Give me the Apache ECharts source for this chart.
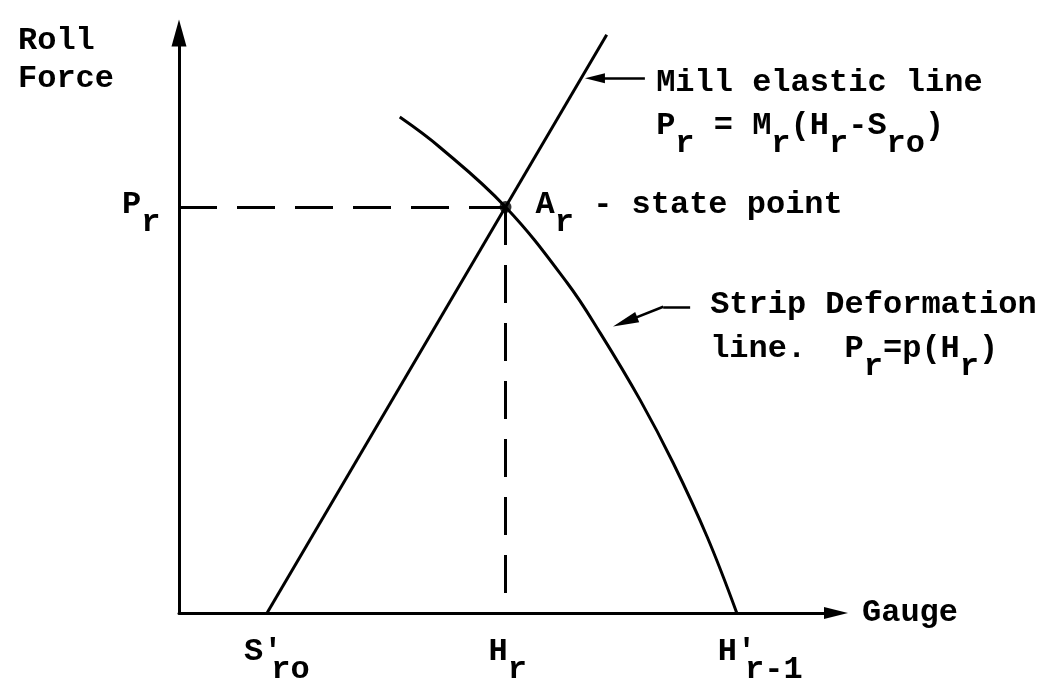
<!DOCTYPE html>
<html>
<head>
<meta charset="utf-8">
<script src="https://cdn.jsdelivr.net/npm/echarts@6/dist/echarts.min.js"></script>
<style>
  html, body { margin: 0; padding: 0; background: #fff; }
  #chart { width: 1061px; height: 686px; }
</style>
</head>
<body>
<div id="chart"></div>
<script>
// gauge (x) against roll force (y), arbitrary units 0..100
const millElasticLine = [[13.4, 0], [65.1, 99.7]];
const stripDeformationLine = [
  [33.6, 85.5], [39.7, 80.3], [49.7, 70.0], [59.1, 56.9], [64.1, 48.3],
  [70.2, 36.7], [75.2, 25.9], [80.4, 13.1], [84.9, 0]
];
const statePoint = [49.7, 70.0];
const gaugeTicks = [13.4, 49.7, 84.9];
const gaugeTickLabels = ["S'_{ro}", 'H_{r}', "H'_{r-1}"];
const forceTickLabel = 'P_{r}';

const FONT = 'Liberation Mono';
const txt = { fontFamily: FONT, fontSize: 32, fontWeight: 'bold', color: '#000', opacity: 1 };
const rich = {
  m: Object.assign({ verticalAlign: 'top' }, txt),
  s: Object.assign({ verticalAlign: 'bottom', lineHeight: 50 }, txt),
  p: Object.assign({ verticalAlign: 'top', width: 8 }, txt)
};

// "H'_{r-1}" -> rich text with subscripts / primes
function toRich(str) {
  const out = '{m|' + str
    .replace(/_\{([^}]*)\}/g, '}{s|$1}{m|')
    .replace(/'/g, "}{p|'}{m|") + '}';
  return out.replace(/\{m\|\}/g, '');
}

function note(coord, text, dx, dy) {
  return { value: coord, label: { formatter: toRich(text), offset: [dx, dy] } };
}

// point on the mill line at a given force
function onMill(y) {
  const a = millElasticLine[0], b = millElasticLine[1];
  return a[0] + (b[0] - a[0]) * (y - a[1]) / (b[1] - a[1]);
}

const millPtr = [onMill(92.2), 92.2];
const stripTail = [77.8, 52.8];
const stripKnee = [73.7, 52.8];
const stripTip = [67.9, 50.2];

const notes = [
  note([0, 100], 'Roll', -161, -8),
  note([0, 100], 'Force', -161, 30),
  note(millPtr, 'Mill elastic line', 75, -11),
  note(millPtr, 'P_{r} = M_{r}(H_{r}-S_{ro})', 75, 32),
  note(statePoint, 'A_{r} - state point', 30, -18),
  note(stripTail, 'Strip Deformation', 20, -18),
  note(stripTail, 'line.  P_{r}=p(H_{r})', 20, 26),
  note([0, statePoint[1]], forceTickLabel, -57, -18),
  note([gaugeTicks[0], 0], gaugeTickLabels[0], -23, 23),
  note([gaugeTicks[1], 0], gaugeTickLabels[1], -17, 23),
  note([gaugeTicks[2], 0], gaugeTickLabels[2], -19, 23)
];

const chart = echarts.init(document.getElementById('chart'), null, { renderer: 'canvas' });

const axisCommon = {
  type: 'value', min: 0, max: 100,
  splitLine: { show: false }, axisTick: { show: false }, axisLabel: { show: false }
};

chart.setOption({
  backgroundColor: '#fff',
  animation: false,
  grid: { left: 179, right: 225, top: 33, bottom: 73, containLabel: false, outerBoundsMode: 'none' },
  xAxis: Object.assign({}, axisCommon, {
    name: 'Gauge', nameLocation: 'end', nameGap: 26,
    nameTextStyle: Object.assign({}, txt),
    axisLine: { show: true, symbol: ['none', 'triangle'], symbolSize: [12, 24],
      lineStyle: { color: '#000', width: 3 } }
  }),
  yAxis: Object.assign({}, axisCommon, {
    axisLine: { show: true, symbol: ['none', 'triangle'], symbolSize: [15, 27],
      lineStyle: { color: '#000', width: 3 } }
  }),
  series: [
    {
      name: 'Mill elastic line', type: 'line', data: millElasticLine,
      symbol: 'none', silent: true,
      lineStyle: { color: '#000', width: 3 }
    },
    {
      name: 'Strip deformation line', type: 'line', data: stripDeformationLine,
      symbol: 'none', smooth: 0.4, silent: true,
      lineStyle: { color: '#000', width: 3 }
    },
    {
      name: 'State point', type: 'scatter', data: [statePoint],
      symbol: 'circle', symbolSize: 12, silent: true,
      itemStyle: { color: '#000' },
      markLine: {
        silent: true, symbol: 'none', label: { show: false },
        lineStyle: { color: '#000', width: 3, type: [38, 20] },
        data: [
          [{ coord: [0, statePoint[1]] }, { coord: statePoint }],
          [{ coord: statePoint }, { coord: [statePoint[0], 0] }]
        ]
      }
    },
    {
      name: 'Notes', type: 'scatter', data: notes,
      symbolSize: 0, silent: true, clip: false,
      itemStyle: { color: '#000', opacity: 1 },
      label: {
        show: true, position: [0, 0], align: 'left', verticalAlign: 'top',
        color: '#000', opacity: 1, textBorderWidth: 0, rich: rich
      },
      markLine: {
        silent: true, label: { show: false },
        symbol: ['none', 'triangle'], symbolSize: [10, 20],
        lineStyle: { color: '#000', width: 2.5, type: 'solid' },
        data: [
          [{ coord: [millPtr[0] + 9.7, millPtr[1]] }, { coord: [millPtr[0] + 2.1, millPtr[1]] }],
          [{ coord: stripTail, symbol: 'none' }, { coord: stripKnee, symbol: 'none' }],
          [{ coord: stripKnee }, { coord: stripTip, symbolSize: [11, 26] }]
        ]
      }
    }
  ]
});
</script>
</body>
</html>
